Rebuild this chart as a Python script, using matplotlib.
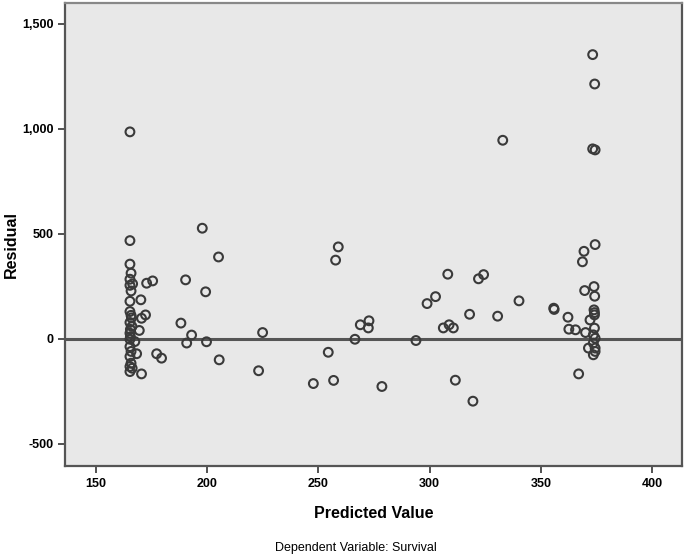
import matplotlib.pyplot as plt

# Predicted values and residuals
predicted = [
    # left column
    165.3, 165.3, 165.3, 165.8, 165.3, 166.5, 165.3, 165.8, 165.3, 165.3,
    165.8, 165.3, 166.2, 165.3, 165.3, 167.5, 165.3, 165.8, 165.3, 165.8,
    165.3, 166.3, 165.3, 166.0, 165.5, 165.5,
    # near the left column
    172.8, 175.5, 190.3, 170.2, 172.3, 170.5, 169.5, 188.2, 193.0, 190.8,
    168.3, 170.5, 177.3, 179.5,
    # middle
    197.8, 205.1, 199.3, 199.7, 205.4, 224.9, 223.1, 247.7,
    258.9, 257.7, 308.1, 321.9, 324.2, 302.6, 298.8, 340.1, 317.9, 330.5,
    355.7, 355.9, 268.8, 272.7, 272.4, 306.1, 308.7, 310.6, 266.4, 293.8,
    254.4, 256.8, 278.5, 311.5, 319.4, 332.8,
    # right column
    373.2, 374.1, 373.2, 374.3, 374.3, 369.3, 368.6, 369.6, 373.8, 374.1,
    362.1, 373.8, 374.0, 372.0, 362.5, 365.5, 370.0, 374.0, 373.5, 374.3,
    371.3, 374.3, 373.5, 374.3, 366.9, 374.0, 373.5,
]
residual = [
    986, 468, 356, 313, 284, 262, 255, 228, 179, 130,
    112, 78, 59, 27, -2, -13, -37, -60, -84, -116,
    -132, -140, -156, 100, 45, 10,
    265, 276, 281, 186, 114, 98, 40, 75, 18, -20,
    -71, -167, -71, -92,
    527, 390, 224, -14, -100, 30, -152, -213,
    438, 375, 308, 286, 306, 201, 168, 181, 117, 108,
    146, 140, 67, 86, 52, 52, 67, 52, -2, -8,
    -64, -198, -227, -197, -297, 946,
    1354, 1214, 905, 900, 449, 417, 367, 230, 249, 203,
    103, 138, 114, 90, 46, 43, 30, 51, 19, 3,
    -44, -44, -76, -60, -167, 125, -20,
]

x_ticks = [150, 200, 250, 300, 350, 400]
y_ticks = [-500, 0, 500, 1000, 1500]
y_tick_labels = ['-500', '0', '500', '1,000', '1,500']

plt.rcParams['font.family'] = ['Liberation Sans', 'DejaVu Sans']
plt.rcParams['axes.unicode_minus'] = False

fig = plt.figure(figsize=(6.85, 5.54), dpi=100)
ax = fig.add_axes([0.0945, 0.158, 0.901, 0.837])
ax.set_facecolor('#e8e8e8')

ax.axhline(0, color='#555555', linewidth=2.2, zorder=1)
ax.scatter(predicted, residual, s=40, facecolors='none', edgecolors='#3a3a3a',
           linewidths=1.5, zorder=2)

ax.set_xlim(136, 413.3)
ax.set_ylim(-608, 1601)
ax.set_xticks(x_ticks, labels=[str(v) for v in x_ticks], fontweight='bold')
ax.set_yticks(y_ticks, labels=y_tick_labels, fontweight='bold')

for side in ['left', 'bottom', 'top', 'right']:
    ax.spines[side].set_color('#555555')
    ax.spines[side].set_linewidth(1.6)
ax.spines['top'].set_color('#888888')

ax.tick_params(direction='out', length=5, width=1.2, color='#333333',
               labelsize=9, pad=3)

ax.set_xlabel('Predicted Value', fontsize=11.5, fontweight='bold', labelpad=12)
ax.set_ylabel('Residual', fontsize=11.5, fontweight='bold')
ax.yaxis.set_label_coords(-0.075, 0.478)
fig.text(0.52, 0.006, 'Dependent Variable: Survival', fontsize=9, ha='center')

fig.savefig('out.png', dpi=100)
